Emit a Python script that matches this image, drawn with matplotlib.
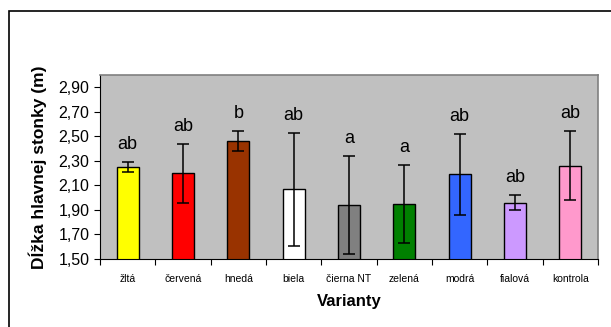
import matplotlib.pyplot as plt
import numpy as np
from matplotlib.patches import Rectangle

plt.rcParams['font.family'] = ['Liberation Sans', 'DejaVu Sans']

varianty = ['žltá', 'červená', 'hnedá', 'biela', 'čierna NT', 'zelená', 'modrá', 'fialová', 'kontrola']
dlzka = [2.25, 2.20, 2.46, 2.07, 1.94, 1.95, 2.19, 1.96, 2.26]
chyba = [0.04, 0.24, 0.08, 0.46, 0.40, 0.32, 0.33, 0.06, 0.28]
pismena = ['ab', 'ab', 'b', 'ab', 'a', 'a', 'ab', 'ab', 'ab']
farby = ['#FFFF00', '#FF0000', '#993300', '#FFFFFF', '#808080', '#008000', '#3366FF', '#CC99FF', '#FF99CC']

fig = plt.figure(figsize=(6.11, 3.27), dpi=100)
fig.add_artist(Rectangle((9/611, -0.1), 2, 1 - 11/327 + 0.1, transform=fig.transFigure,
                         fill=False, ec='black', lw=1.2))
ax = fig.add_axes([100/611, 68/327, 498/611, 184/327])
ax.set_facecolor('#C0C0C0')

x = np.arange(len(varianty))
ax.bar(x, dlzka, width=0.4, color=farby, edgecolor='black', linewidth=1.0)
ax.errorbar(x, dlzka, yerr=chyba, fmt='none', ecolor='black', elinewidth=1.1, capsize=4, capthick=1.1)
for xi, v, e, p in zip(x, dlzka, chyba, pismena):
    ax.annotate(p, (xi, v + e), xytext=(0, 6.5), textcoords='offset points',
                ha='center', va='bottom', fontsize=13)

ax.set_xlim(-0.5, len(varianty) - 0.5)
ax.set_ylim(1.5, 3.0)
ticks = np.arange(1.5, 2.95, 0.2)
ax.set_yticks(ticks)
ax.set_yticklabels([f'{t:.2f}'.replace('.', ',') for t in ticks], fontsize=11.5)
ax.set_xticks(np.arange(-0.5, len(varianty), 1.0))
ax.set_xticklabels([])
ax.set_xticks(x, minor=True)
ax.set_xticklabels(varianty, minor=True, fontsize=7.5)
ax.tick_params(axis='x', which='minor', length=0, pad=11)
ax.tick_params(axis='both', which='major', length=4, width=0.8, direction='out')

for s in ['top', 'right']:
    ax.spines[s].set_color('#808080')
    ax.spines[s].set_linewidth(1.2)

ax.set_xlabel('Varianty', fontsize=12, fontweight='bold', labelpad=7)
ax.set_ylabel('Dĺžka hlavnej stonky (m)', fontsize=12.5, fontweight='bold', labelpad=8)

fig.savefig('out.png', dpi=100)
